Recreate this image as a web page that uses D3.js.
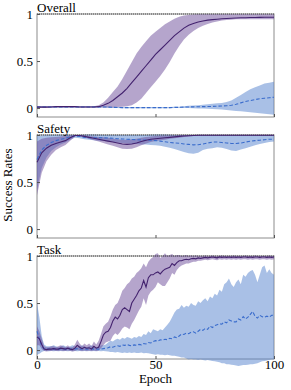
<!DOCTYPE html>
<html>
<head>
<meta charset="utf-8">
<script src="https://cdn.jsdelivr.net/npm/d3@7"></script>
<style>
  body { margin: 0; background: #fff; }
  svg { display: block; }
  text { font-family: "Liberation Serif", serif; }
</style>
</head>
<body>
<div id="chart"></div>
<script>
// panel names
var panelNames = ["Overall", "Safety", "Task"];

// x values: Overall / Safety read every 2 epochs, Task every epoch
var epochsCoarse = d3.range(0, 101, 2);
var epochsFine = d3.range(0, 101);

// Overall: purple (solid) mean / low / high, blue (dashed) mean / low / high
var overallPurpleMean = [0.01,0.01,0.01,0.012,0.015,0.015,0.015,0.015,0.015,0.012,0.012,0.012,0.012,0.015,0.03,0.05,0.08,0.12,0.16,0.21,0.27,0.33,0.39,0.45,0.51,0.57,0.62,0.67,0.72,0.77,0.81,0.85,0.88,0.9,0.915,0.925,0.935,0.94,0.945,0.95,0.952,0.955,0.957,0.96,0.96,0.962,0.963,0.964,0.965,0.965,0.965];
var overallPurpleHigh = [0.02,0.02,0.02,0.02,0.02,0.02,0.02,0.02,0.02,0.02,0.02,0.02,0.02,0.03,0.06,0.11,0.17,0.23,0.31,0.4,0.49,0.58,0.65,0.71,0.77,0.81,0.85,0.89,0.92,0.95,0.97,0.985,0.99,0.995,0.998,0.998,0.998,0.998,0.998,0.998,0.998,0.998,0.998,0.998,0.998,0.998,0.998,0.998,0.998,0.998,0.998];
var overallPurpleLow = [0.005,0.005,0.005,0.005,0.005,0.005,0.005,0.005,0.005,0.005,0.005,0.005,0.005,0.005,0.005,0.005,0.005,0.01,0.015,0.02,0.03,0.06,0.1,0.16,0.22,0.28,0.34,0.41,0.49,0.58,0.66,0.73,0.78,0.82,0.85,0.875,0.895,0.91,0.92,0.93,0.935,0.94,0.945,0.945,0.945,0.945,0.945,0.945,0.945,0.945,0.945];
var overallBlueMean = [0.012,0.012,0.012,0.012,0.012,0.012,0.012,0.012,0.012,0.012,0.012,0.012,0.012,0.012,0.012,0.01,0.008,0.006,0.005,0.005,0.005,0.005,0.005,0.005,0.005,0.005,0.005,0.005,0.005,0.007,0.008,0.01,0.012,0.013,0.014,0.015,0.016,0.018,0.02,0.022,0.025,0.03,0.04,0.055,0.07,0.08,0.09,0.1,0.105,0.11,0.115];
var overallBlueHigh = [0.018,0.018,0.018,0.018,0.018,0.018,0.018,0.018,0.018,0.018,0.018,0.018,0.018,0.018,0.018,0.016,0.014,0.012,0.011,0.011,0.011,0.011,0.011,0.011,0.011,0.011,0.011,0.011,0.011,0.013,0.015,0.02,0.025,0.028,0.03,0.035,0.04,0.045,0.05,0.055,0.065,0.08,0.11,0.14,0.17,0.2,0.22,0.24,0.26,0.27,0.28];
var overallBlueLow = [0.006,0.006,0.006,0.006,0.006,0.006,0.006,0.006,0.006,0.006,0.006,0.006,0.006,0.006,0.006,0.004,0.002,0,-0.001,-0.001,-0.001,-0.001,-0.001,-0.001,-0.001,-0.001,-0.001,-0.001,-0.001,0,0,0,0,-0.002,-0.005,-0.005,-0.008,-0.01,-0.012,-0.015,-0.02,-0.025,-0.03,-0.035,-0.04,-0.045,-0.05,-0.055,-0.06,-0.065,-0.07];

// Safety
var safetyPurpleMean = [0.71,0.81,0.86,0.89,0.91,0.925,0.94,0.97,0.995,0.995,0.985,0.975,0.965,0.955,0.945,0.935,0.925,0.915,0.905,0.9,0.905,0.915,0.93,0.945,0.955,0.96,0.965,0.97,0.975,0.98,0.985,0.99,0.992,0.995,0.997,0.998,0.998,0.998,0.998,0.998,0.998,0.998,0.998,0.998,0.998,0.998,0.998,0.998,0.998,0.998,0.998];
var safetyPurpleHigh = [0.93,0.96,0.97,0.975,0.98,0.985,0.99,0.995,1,1,0.995,0.99,0.985,0.98,0.975,0.97,0.96,0.955,0.95,0.95,0.955,0.96,0.97,0.98,0.985,0.99,0.992,0.995,0.995,0.995,1,1,1,1,1,1,1,1,1,1,1,1,1,1,1,1,1,1,1,1,1];
var safetyPurpleLow = [0.36,0.6,0.72,0.79,0.84,0.87,0.895,0.94,0.985,0.99,0.975,0.96,0.945,0.93,0.915,0.9,0.885,0.87,0.855,0.85,0.855,0.87,0.89,0.91,0.925,0.935,0.945,0.95,0.96,0.965,0.97,0.98,0.985,0.99,0.993,0.995,0.996,0.996,0.996,0.996,0.996,0.996,0.996,0.996,0.996,0.996,0.996,0.996,0.996,0.996,0.996];
var safetyBlueMean = [0.74,0.84,0.89,0.92,0.94,0.955,0.965,0.98,0.99,0.985,0.975,0.97,0.97,0.97,0.97,0.968,0.965,0.96,0.958,0.955,0.952,0.95,0.948,0.946,0.945,0.94,0.935,0.928,0.92,0.915,0.912,0.905,0.9,0.895,0.897,0.905,0.915,0.925,0.925,0.92,0.915,0.91,0.91,0.915,0.925,0.935,0.94,0.945,0.95,0.955,0.955];
var safetyBlueHigh = [0.99,0.995,1,1,1,1,1,1,1,1,1.003,1.005,1.005,1.003,1,1,1,1,1,1,1,1,1,1,1.003,1.005,1.005,1.005,1.003,1,1,1,1,1,1,1,1,1,1,1,1,1,1,1,1,1,1,1,1,1,1];
var safetyBlueLow = [0.42,0.65,0.76,0.83,0.87,0.9,0.92,0.95,0.97,0.965,0.955,0.95,0.945,0.94,0.935,0.93,0.925,0.92,0.915,0.91,0.905,0.905,0.9,0.9,0.895,0.89,0.885,0.875,0.865,0.85,0.835,0.82,0.805,0.8,0.81,0.84,0.855,0.86,0.87,0.865,0.85,0.835,0.83,0.845,0.86,0.875,0.89,0.905,0.915,0.925,0.93];

// Task
var taskPurpleMean = [0.14,0.12,0.06,0.01,0.005,0.01,0.01,0.015,0.01,0.01,
  0.02,0.015,0.01,0.02,0.01,0.005,0.02,0.05,0.03,0.015,
  0.03,0.02,0.025,0.01,0.04,0.02,0.03,0.09,0.16,0.19,
  0.2,0.24,0.31,0.35,0.33,0.37,0.43,0.45,0.43,0.41,
  0.5,0.54,0.58,0.63,0.66,0.74,0.67,0.77,0.8,0.8,
  0.82,0.83,0.81,0.84,0.86,0.87,0.88,0.92,0.9,0.93,
  0.95,0.95,0.96,0.965,0.96,0.97,0.975,0.97,0.98,0.975,
  0.98,0.985,0.98,0.985,0.99,0.985,0.98,0.99,0.985,0.99,
  0.985,0.99,0.985,0.99,0.985,0.99,0.985,0.99,0.99,0.985,
  0.99,0.985,0.99,0.99,0.985,0.99,0.99,0.985,0.99,0.985,
  0.99];
var taskPurpleHigh = [0.25,0.2,0.12,0.04,0.03,0.03,0.04,0.04,0.03,0.04,
  0.05,0.04,0.03,0.05,0.03,0.03,0.06,0.11,0.07,0.04,
  0.07,0.05,0.07,0.04,0.09,0.06,0.1,0.17,0.25,0.28,
  0.3,0.36,0.43,0.48,0.5,0.56,0.63,0.66,0.7,0.72,
  0.76,0.78,0.82,0.84,0.87,0.92,0.88,0.94,0.97,0.99,
  1.02,1.03,0.98,1.0,1.03,1.0,1.01,1.02,1.0,1.01,
  1.01,1.0,1.005,1.01,1.0,1.005,1.0,1.005,1.0,1.0,
  1.0,1.005,1.0,1.0,1.005,1.0,1.0,1.0,1.005,1.0,
  1.0,1.0,1.0,1.005,1.0,1.0,1.0,1.0,1.005,1.0,
  1.0,1.0,1.005,1.0,1.0,1.0,1.0,1.0,1.005,1.0,
  1.0];
var taskPurpleLow = [0.05,0.05,0.01,-0.01,-0.015,-0.01,-0.01,-0.005,-0.01,-0.01,
  -0.005,-0.01,-0.01,-0.005,-0.01,-0.015,-0.01,0.0,-0.005,-0.01,
  -0.005,-0.01,-0.005,-0.01,-0.005,-0.01,-0.005,0.02,0.05,0.08,
  0.09,0.1,0.15,0.18,0.16,0.19,0.23,0.25,0.24,0.22,
  0.28,0.32,0.37,0.42,0.46,0.55,0.48,0.58,0.62,0.64,
  0.67,0.72,0.7,0.68,0.68,0.72,0.76,0.82,0.8,0.85,
  0.88,0.9,0.91,0.92,0.92,0.93,0.94,0.94,0.95,0.95,
  0.955,0.96,0.955,0.96,0.965,0.96,0.955,0.965,0.96,0.965,
  0.96,0.965,0.96,0.965,0.96,0.965,0.96,0.965,0.965,0.96,
  0.965,0.96,0.965,0.965,0.96,0.965,0.965,0.96,0.965,0.96,
  0.965];
var taskBlueMean = [0.2,0.12,0.04,0.015,0.01,0.012,0.01,0.015,0.012,0.01,
  0.015,0.012,0.01,0.015,0.012,0.01,0.012,0.015,0.01,0.012,
  0.015,0.01,0.012,0.015,0.01,0.012,0.01,0.012,0.015,0.02,
  0.025,0.035,0.03,0.04,0.045,0.04,0.055,0.05,0.06,0.05,
  0.045,0.055,0.05,0.06,0.055,0.07,0.065,0.08,0.075,0.09,
  0.1,0.095,0.11,0.105,0.115,0.11,0.125,0.12,0.14,0.13,
  0.15,0.17,0.165,0.18,0.175,0.19,0.195,0.18,0.2,0.22,
  0.21,0.23,0.22,0.255,0.24,0.26,0.27,0.28,0.275,0.3,
  0.29,0.32,0.31,0.3,0.3,0.33,0.32,0.355,0.33,0.35,
  0.38,0.41,0.36,0.34,0.37,0.355,0.35,0.36,0.35,0.37,
  0.37];
var taskBlueHigh = [0.5,0.35,0.15,0.06,0.04,0.04,0.04,0.05,0.04,0.03,
  0.04,0.05,0.04,0.03,0.04,0.05,0.04,0.03,0.04,0.05,
  0.04,0.03,0.04,0.05,0.04,0.03,0.04,0.05,0.05,0.06,
  0.08,0.1,0.09,0.11,0.12,0.11,0.13,0.12,0.14,0.13,
  0.12,0.14,0.13,0.15,0.14,0.17,0.16,0.2,0.18,0.22,
  0.21,0.2,0.22,0.21,0.24,0.27,0.3,0.35,0.4,0.43,
  0.44,0.48,0.45,0.47,0.46,0.5,0.48,0.47,0.52,0.5,
  0.53,0.55,0.52,0.57,0.55,0.6,0.58,0.64,0.62,0.7,
  0.72,0.76,0.7,0.67,0.72,0.75,0.7,0.8,0.78,0.82,
  0.84,0.85,0.8,0.72,0.8,0.88,0.9,0.82,0.86,0.82,
  0.8];
var taskBlueLow = [-0.05,-0.04,-0.02,-0.01,-0.01,-0.012,-0.01,-0.012,-0.01,-0.012,
  -0.01,-0.012,-0.01,-0.012,-0.01,-0.012,-0.01,-0.012,-0.01,-0.012,
  -0.01,-0.012,-0.01,-0.012,-0.01,-0.012,-0.01,-0.012,-0.01,-0.012,
  -0.015,-0.02,-0.02,-0.025,-0.02,-0.025,-0.03,-0.025,-0.03,-0.025,
  -0.03,-0.025,-0.03,-0.03,-0.025,-0.035,-0.03,-0.035,-0.04,-0.045,
  -0.05,-0.045,-0.05,-0.05,-0.055,-0.05,-0.055,-0.06,-0.06,-0.065,
  -0.07,-0.08,-0.08,-0.09,-0.1,-0.095,-0.1,-0.1,-0.105,-0.1,
  -0.105,-0.11,-0.105,-0.11,-0.115,-0.12,-0.125,-0.13,-0.14,-0.14,
  -0.15,-0.15,-0.155,-0.16,-0.165,-0.17,-0.165,-0.16,-0.16,-0.155,
  -0.15,-0.15,-0.145,-0.14,-0.13,-0.12,-0.115,-0.11,-0.105,-0.1,
  -0.1];

var yTicks = [0, 0.5, 1];
var xTicks = [0, 50, 100];

var panels = [
  {name: panelNames[0], epochs: epochsCoarse,
   pm: overallPurpleMean, ph: overallPurpleHigh, pl: overallPurpleLow,
   bm: overallBlueMean, bh: overallBlueHigh, bl: overallBlueLow},
  {name: panelNames[1], epochs: epochsCoarse,
   pm: safetyPurpleMean, ph: safetyPurpleHigh, pl: safetyPurpleLow,
   bm: safetyBlueMean, bh: safetyBlueHigh, bl: safetyBlueLow},
  {name: panelNames[2], epochs: epochsFine,
   pm: taskPurpleMean, ph: taskPurpleHigh, pl: taskPurpleLow,
   bm: taskBlueMean, bh: taskBlueHigh, bl: taskBlueLow}
];

var width = 291, height = 390;
var plotLeft = 37, plotRight = 274;
var plotH = 103, firstTop = 14, step = 121;

var svg = d3.select("#chart")
  .append("svg")
  .attr("width", width)
  .attr("height", height);

var x = d3.scaleLinear().domain([0, 100]).range([plotLeft, plotRight]);

panels.forEach(function (p, i) {
  var top = firstTop + i * step;
  var y = d3.scaleLinear().domain([-0.095, 1]).range([top + plotH, top]);

  var rows = p.epochs.map(function (e, j) {
    return {e: e, pm: p.pm[j], ph: p.ph[j], pl: p.pl[j],
            bm: p.bm[j], bh: p.bh[j], bl: p.bl[j]};
  });

  var g = svg.append("g");

  // frame
  g.append("rect")
    .attr("x", x(0)).attr("y", top)
    .attr("width", x(100) - x(0)).attr("height", plotH)
    .attr("fill", "none")
    .attr("stroke", "#8c8c8c")
    .attr("stroke-width", 1);

  // shaded bands
  var blueArea = d3.area()
    .x(function (d) { return x(d.e); })
    .y0(function (d) { return y(d.bl); })
    .y1(function (d) { return y(d.bh); });
  var purpleArea = d3.area()
    .x(function (d) { return x(d.e); })
    .y0(function (d) { return y(d.pl); })
    .y1(function (d) { return y(d.ph); });

  g.append("path").datum(rows)
    .attr("d", blueArea)
    .attr("fill", "#5381cd")
    .attr("fill-opacity", 0.5);
  g.append("path").datum(rows)
    .attr("d", purpleArea)
    .attr("fill", "#6b4c9a")
    .attr("fill-opacity", 0.5);

  // dotted line at 1
  g.append("line")
    .attr("x1", x(0)).attr("x2", x(100))
    .attr("y1", y(1)).attr("y2", y(1))
    .attr("stroke", "#333")
    .attr("stroke-width", 0.8)
    .attr("stroke-dasharray", "1,1");

  // mean lines
  var blueLine = d3.line()
    .x(function (d) { return x(d.e); })
    .y(function (d) { return y(d.bm); });
  var purpleLine = d3.line()
    .x(function (d) { return x(d.e); })
    .y(function (d) { return y(d.pm); });

  g.append("path").datum(rows)
    .attr("d", blueLine)
    .attr("fill", "none")
    .attr("stroke", "#3a6ccc")
    .attr("stroke-width", 1.1)
    .attr("stroke-dasharray", "3.5,2");
  g.append("path").datum(rows)
    .attr("d", purpleLine)
    .attr("fill", "none")
    .attr("stroke", "#43226e")
    .attr("stroke-width", 1.1);

  // axes, ticks point inward
  var yAxis = g.append("g")
    .attr("transform", "translate(" + x(0) + ",0)")
    .call(d3.axisLeft(y).tickValues(yTicks).tickSize(-3).tickPadding(4).tickFormat(d3.format("")));
  var xAxis = g.append("g")
    .attr("transform", "translate(0," + (top + plotH) + ")")
    .call(d3.axisBottom(x).tickValues(xTicks).tickSize(-3).tickPadding(1)
      .tickFormat(i === panels.length - 1 ? d3.format("") : ""));

  [yAxis, xAxis].forEach(function (a) {
    a.select(".domain").remove();
    a.attr("font-family", "Liberation Serif").attr("font-size", 13);
    a.selectAll("line").attr("stroke", "#555");
    a.selectAll("text").attr("fill", "#000");
  });

  // panel title
  g.append("text")
    .attr("x", plotLeft)
    .attr("y", top - 2.5)
    .attr("font-size", 13)
    .text(p.name);
});

svg.append("text")
  .attr("transform", "translate(12,185) rotate(-90)")
  .attr("text-anchor", "middle")
  .attr("font-size", 13)
  .text("Success Rates");

svg.append("text")
  .attr("x", (plotLeft + plotRight) / 2)
  .attr("y", 383)
  .attr("text-anchor", "middle")
  .attr("font-size", 13)
  .text("Epoch");
</script>
</body>
</html>
